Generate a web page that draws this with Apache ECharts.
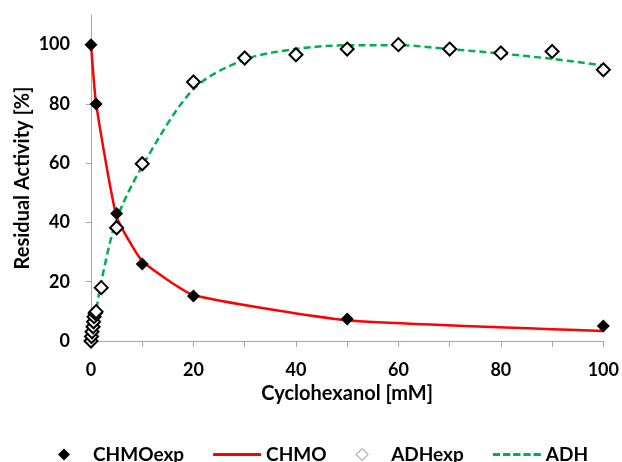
<!DOCTYPE html>
<html>
<head>
<meta charset="utf-8">
<script src="https://cdn.jsdelivr.net/npm/echarts@6/dist/echarts.min.js"></script>
<style>html,body{margin:0;padding:0;background:#fff}#c{width:622px;height:462px}</style>
</head>
<body>
<div id="c"></div>
<script>
// CHMO experimental points
const chmoExpX = [0, 1, 5, 10, 20, 50, 100];
const chmoExpY = [100, 80, 43, 26, 15.2, 7.4, 5.1];
// CHMO model line
const chmoX = [0, 1, 5, 10, 20, 50, 100];
const chmoY = [100, 80, 42, 27, 15.5, 7, 3.4];
// ADH experimental points
const adhExpX = [0, 0.1, 0.2, 0.4, 0.5, 0.6, 0.8, 1, 2, 5, 10, 20, 30, 40, 50, 60, 70, 80, 90, 100];
const adhExpY = [0, 1.5, 3.1, 4.8, 6.5, 8.2, 9.4, 9.9, 18, 38.2, 59.8, 87.4, 95.5, 96.6, 98.5, 100, 98.5, 97.2, 97.7, 91.5];
// ADH model line
const adhX = [0, 0.5, 1, 2, 5, 10, 20, 30, 40, 50, 60, 70, 80, 90, 100];
const adhY = [0, 5, 10, 20, 41, 59, 85, 95, 98.5, 99.8, 99.8, 98.5, 97, 95.2, 93];
// axis ticks
const xTicks = [0, 10, 20, 30, 40, 50, 60, 70, 80, 90, 100];
const xLabels = [0, 20, 40, 60, 80, 100];
const yLabels = [0, 20, 40, 60, 80, 100];

const zip = (xs, ys) => xs.map((x, i) => [x, ys[i]]);
const FONT = 'Lato';
const axisGray = '#A6A6A6';
const DIAMOND = 'path://M5 0 L10 5 L5 10 L0 5 Z';
const SOLID = 'path://M0 0 H50 V3 H0 Z';
const DASHED = 'path://M0 0 H7.6 V3 H0 Z M10.6 0 H18.2 V3 H10.6 Z M21.2 0 H28.8 V3 H21.2 Z M31.8 0 H39.4 V3 H31.8 Z M42.4 0 H50 V3 H42.4 Z';

const chart = echarts.init(document.getElementById('c'), null, {renderer: 'canvas'});
chart.setOption({
  animation: false,
  backgroundColor: '#fff',
  grid: {left: 91, right: 18, top: 15, bottom: 121, containLabel: false},
  xAxis: {
    type: 'value', min: 0, max: 100, interval: 10,
    name: 'Cyclohexanol [mM]', nameLocation: 'middle', nameGap: 43,
    nameTextStyle: {fontFamily: FONT, fontWeight: 'bold', fontSize: 20, color: '#000'},
    axisLine: {show: true, onZero: false, lineStyle: {color: axisGray, width: 1}},
    axisTick: {show: true, length: 6, inside: false, lineStyle: {color: axisGray}, customValues: xTicks},
    axisLabel: {fontFamily: FONT, fontWeight: 'bold', fontSize: 18, color: '#000', margin: 20, customValues: xLabels},
    splitLine: {show: false}
  },
  yAxis: {
    type: 'value', min: 0, max: 110, interval: 20,
    name: 'Residual Activity [%]', nameLocation: 'middle', nameGap: 58, nameMoveOverlap: false,
    nameTextStyle: {fontFamily: FONT, fontWeight: 'bold', fontSize: 20, color: '#000'},
    axisLine: {show: true, lineStyle: {color: axisGray, width: 1}},
    axisTick: {show: true, length: 5, inside: false, lineStyle: {color: axisGray}, customValues: yLabels},
    axisLabel: {fontFamily: FONT, fontWeight: 'bold', fontSize: 18, color: '#000', margin: 21, customValues: yLabels},
    splitLine: {show: false}
  },
  legend: {
    left: 58, top: 445, itemWidth: 48, itemHeight: 12, itemGap: 29, padding: 0,
    symbolKeepAspect: true,
    textStyle: {fontFamily: FONT, fontWeight: 'bold', fontSize: 19, color: '#000'},
    data: [
      {name: 'CHMOexp', icon: DIAMOND, itemStyle: {color: '#000', borderWidth: 0}},
      {name: 'CHMO', icon: SOLID, itemStyle: {color: '#FF0000', borderWidth: 0}},
      {name: 'ADHexp', icon: DIAMOND, itemStyle: {color: '#fff', borderColor: '#808080', borderWidth: 1}},
      {name: 'ADH', icon: DASHED, itemStyle: {color: '#00B050', borderWidth: 0}}
    ]
  },
  series: [
    {
      name: 'CHMO', type: 'line', data: zip(chmoX, chmoY), showSymbol: false, symbol: 'none',
      smooth: 0.15, lineStyle: {color: '#FF0000', width: 2.5}, itemStyle: {color: '#FF0000'}, z: 2
    },
    {
      name: 'ADH', type: 'line', data: zip(adhX, adhY), showSymbol: false, symbol: 'none',
      smooth: 0.3, lineStyle: {color: '#00B050', width: 2.5, type: [7, 4]}, itemStyle: {color: '#00B050'}, z: 2
    },
    {
      name: 'ADHexp', type: 'scatter', data: zip(adhExpX, adhExpY), symbol: 'diamond', symbolSize: 13,
      itemStyle: {color: '#fff', borderColor: '#000', borderWidth: 2, opacity: 1}, z: 4
    },
    {
      name: 'CHMOexp', type: 'scatter', data: zip(chmoExpX, chmoExpY), symbol: 'diamond', symbolSize: 13,
      itemStyle: {color: '#000', opacity: 1}, z: 5
    }
  ]
});
</script>
</body>
</html>
